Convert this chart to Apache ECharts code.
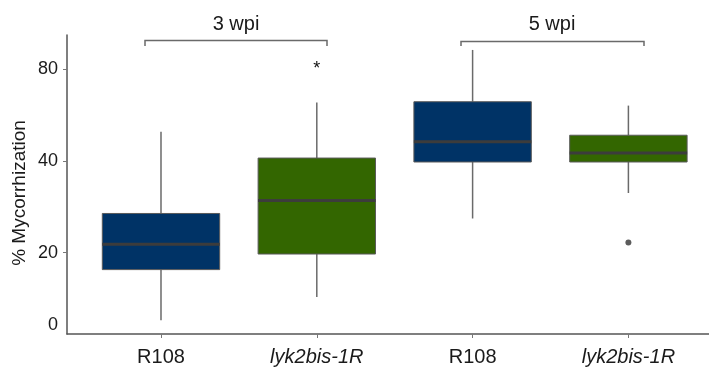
<!DOCTYPE html>
<html>
<head>
<meta charset="utf-8">
<script src="https://cdn.jsdelivr.net/npm/echarts@6/dist/echarts.min.js"></script>
<style>
  html, body { margin: 0; padding: 0; background: #ffffff; }
  #chart { width: 709px; height: 367px; }
</style>
</head>
<body>
<div id="chart"></div>
<script>
// Genotypes along the x axis (two time points, two genotypes each)
const groups = ['R108', 'lyk2bis-1R', 'R108', 'lyk2bis-1R'];
const italicGroup = [false, true, false, true];

// Box statistics, % mycorrhization
const boxMin    = [12.0, 14.3, 25.9, 31.4];
const boxQ1     = [17.6, 19.8, 39.7, 39.7];
const boxMedian = [21.3, 29.7, 46.3, 42.5];
const boxQ3     = [26.9, 40.9, 62.6, 48.6];
const boxMax    = [49.9, 62.2, 92.6, 60.8];

// Outliers (circle) and extreme values (asterisk)
const outlierGroup = [3];
const outlierValue = [21.6];
const extremeGroup = [1];
const extremeValue = [80];

const boxColors = ['#003366', '#336600', '#003366', '#336600'];

// Time point annotations
const periods = ['3 wpi', '5 wpi'];

// y axis labels
const yTickValues = [11.6, 20, 40, 80];
const yTickLabels = ['0', '20', '40', '80'];

const FONT = 'Arial, "Liberation Sans", Helvetica, sans-serif';
const log2 = Math.log2;

const boxData = groups.map((g, i) => [
  i, log2(boxMin[i]), log2(boxQ1[i]), log2(boxMedian[i]), log2(boxQ3[i]), log2(boxMax[i])
]);
const outlierData = outlierGroup.map((g, i) => [g, log2(outlierValue[i])]);
const extremeData = extremeGroup.map((g, i) => [g, log2(extremeValue[i])]);

const BOX_WIDTH = 0.7535;

function renderBox(params, api) {
  const x = api.value(0);
  const pMin = api.coord([x, api.value(1)]);
  const pQ1 = api.coord([x, api.value(2)]);
  const pMed = api.coord([x, api.value(3)]);
  const pQ3 = api.coord([x, api.value(4)]);
  const pMax = api.coord([x, api.value(5)]);
  const half = api.size([BOX_WIDTH, 0])[0] / 2;
  const cx = pMed[0];
  const whiskerStyle = { stroke: '#6a6a6a', lineWidth: 1.5 };
  return {
    type: 'group',
    children: [
      { type: 'line', shape: { x1: cx, y1: pMax[1], x2: cx, y2: pQ3[1] }, style: whiskerStyle },
      { type: 'line', shape: { x1: cx, y1: pQ1[1], x2: cx, y2: pMin[1] }, style: whiskerStyle },
      {
        type: 'rect',
        shape: { x: cx - half, y: pQ3[1], width: half * 2, height: pQ1[1] - pQ3[1] },
        style: { fill: boxColors[params.dataIndex], stroke: '#5a5a5a', lineWidth: 1 }
      },
      {
        type: 'line',
        shape: { x1: cx - half, y1: pMed[1], x2: cx + half, y2: pMed[1] },
        style: { stroke: '#3c3c3c', lineWidth: 3 }
      }
    ]
  };
}

function renderExtreme(params, api) {
  const p = api.coord([api.value(0), api.value(1)]);
  return {
    type: 'text',
    x: p[0], y: p[1],
    style: {
      text: '*', fill: '#111', font: '18px ' + FONT,
      align: 'center', verticalAlign: 'middle'
    }
  };
}

const chart = echarts.init(document.getElementById('chart'), null, { renderer: 'canvas' });

chart.setOption({
  animation: false,
  backgroundColor: '#ffffff',
  grid: { left: 67, right: 0, top: 35, bottom: 33, containLabel: false },
  xAxis: {
    type: 'value',
    min: -0.6033,
    max: 3.5173,
    splitLine: { show: false },
    axisLine: { show: true, onZero: false, lineStyle: { color: '#555', width: 1.5 } },
    axisTick: { show: true, customValues: [0, 1, 2, 3], length: 4, lineStyle: { color: '#777', width: 1 } },
    axisLabel: {
      customValues: [0, 1, 2, 3],
      margin: 13,
      formatter: (v) => {
        const i = Math.round(v);
        return italicGroup[i] ? '{i|' + groups[i] + '}' : '{r|' + groups[i] + '}';
      },
      rich: {
        r: { fontFamily: FONT, fontSize: 20, color: '#1a1a1a' },
        i: { fontFamily: FONT, fontSize: 20, fontStyle: 'italic', color: '#1a1a1a' }
      }
    }
  },
  yAxis: {
    type: 'value',
    min: 3.4353,
    max: 6.6959,
    splitLine: { show: false },
    axisLine: { show: true, onZero: false, lineStyle: { color: '#555', width: 1.5 } },
    axisTick: {
      show: true,
      customValues: yTickValues.slice(1).map(log2),
      length: 4,
      lineStyle: { color: '#777', width: 1 }
    },
    axisLabel: {
      customValues: yTickValues.map(log2),
      margin: 9,
      fontFamily: FONT,
      fontSize: 18,
      color: '#1a1a1a',
      formatter: (v) => {
        let best = 0;
        yTickValues.forEach((t, i) => {
          if (Math.abs(log2(t) - v) < Math.abs(log2(yTickValues[best]) - v)) best = i;
        });
        return yTickLabels[best];
      }
    }
  },
  graphic: [
    {
      type: 'text', x: 20, y: 193, rotation: Math.PI / 2,
      style: { text: '% Mycorrhization', font: '19px ' + FONT, fill: '#1a1a1a', align: 'center', verticalAlign: 'middle' }
    },
    {
      type: 'polyline',
      shape: { points: [[145, 46], [145, 40.5], [327, 40.5], [327, 46]] },
      style: { stroke: '#6a6a6a', lineWidth: 1.5, fill: null }
    },
    {
      type: 'polyline',
      shape: { points: [[461, 46], [461, 41.5], [644, 41.5], [644, 46]] },
      style: { stroke: '#6a6a6a', lineWidth: 1.5, fill: null }
    },
    {
      type: 'text', x: 236, y: 24,
      style: { text: periods[0], font: '20px ' + FONT, fill: '#1a1a1a', align: 'center', verticalAlign: 'middle' }
    },
    {
      type: 'text', x: 552, y: 24,
      style: { text: periods[1], font: '20px ' + FONT, fill: '#1a1a1a', align: 'center', verticalAlign: 'middle' }
    }
  ],
  series: [
    {
      type: 'custom',
      name: 'boxes',
      renderItem: renderBox,
      encode: { x: 0, y: [1, 2, 3, 4, 5] },
      data: boxData,
      clip: false
    },
    {
      type: 'scatter',
      name: 'outliers',
      symbol: 'circle',
      symbolSize: 6,
      itemStyle: { color: '#333333' },
      data: outlierData
    },
    {
      type: 'custom',
      name: 'extremes',
      renderItem: renderExtreme,
      encode: { x: 0, y: 1 },
      data: extremeData,
      clip: false
    }
  ]
});
</script>
</body>
</html>
